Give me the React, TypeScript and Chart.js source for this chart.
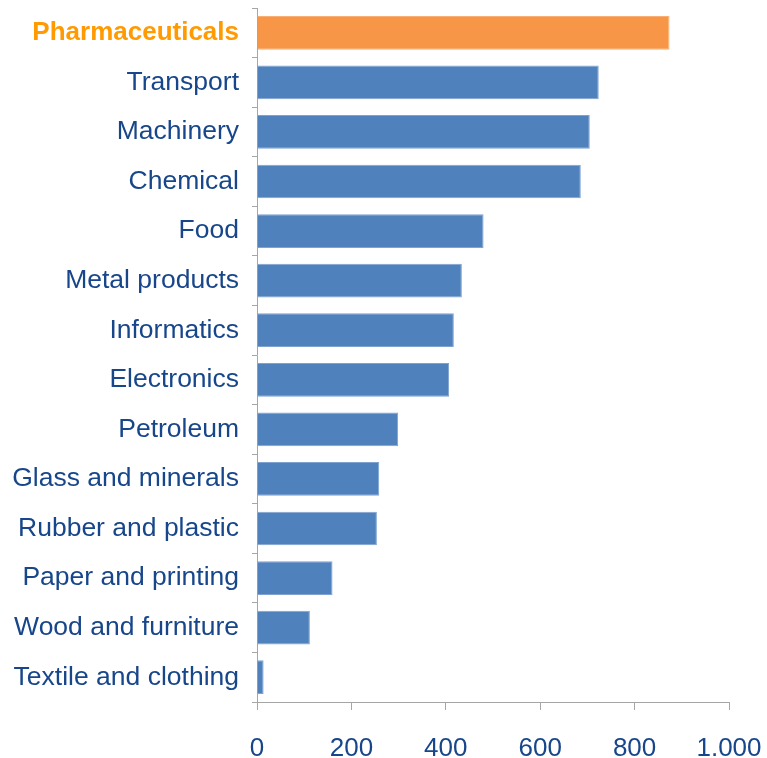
import React, { useEffect, useRef } from "react";
import { Chart, registerables } from "chart.js";

Chart.register(...registerables);

// Sectors, top to bottom
const categories = [
  "Pharmaceuticals",
  "Transport",
  "Machinery",
  "Chemical",
  "Food",
  "Metal products",
  "Informatics",
  "Electronics",
  "Petroleum",
  "Glass and minerals",
  "Rubber and plastic",
  "Paper and printing",
  "Wood and furniture",
  "Textile and clothing",
];

const values = [874, 724, 705, 686, 480, 434, 417, 407, 299, 259, 254, 160, 112, 14];

const xTickValues = [0, 200, 400, 600, 800, 1000];
const xTickLabels = ["0", "200", "400", "600", "800", "1.000"];

const HIGHLIGHT = "#F79646";
const HIGHLIGHT_EDGE = "#F9AE74";
const HIGHLIGHT_TEXT = "#FF9A00";
const BAR = "#4F81BD";
const BAR_EDGE = "#7FA2D0";
const TEXT = "#17468A";
const AXIS = "#A6A6A6";
const FONT = "'Liberation Sans', Arial, sans-serif";

export default function App() {
  const canvasRef = useRef<HTMLCanvasElement | null>(null);

  useEffect(() => {
    const canvas = canvasRef.current;
    if (!canvas) return;
    const chart = new Chart(canvas, {
      type: "bar",
      data: {
        labels: categories,
        datasets: [
          {
            data: values,
            backgroundColor: categories.map((_, i) => (i === 0 ? HIGHLIGHT : BAR)),
            borderColor: categories.map((_, i) => (i === 0 ? HIGHLIGHT_EDGE : BAR_EDGE)),
            borderWidth: 1,
            categoryPercentage: 1,
            barPercentage: 0.68,
          },
        ],
      },
      options: {
        indexAxis: "y",
        animation: false,
        responsive: true,
        maintainAspectRatio: false,
        layout: { padding: { top: 8, right: 38, left: 0, bottom: 0 } },
        plugins: {
          legend: { display: false },
          tooltip: { enabled: false },
        },
        scales: {
          x: {
            type: "linear",
            min: 0,
            max: 1000,
            afterBuildTicks: (scale: any) => {
              scale.ticks = xTickValues.map((v) => ({ value: v }));
            },
            afterFit: (scale: any) => {
              scale.height = 56;
              scale.paddingLeft = 0;
              scale.paddingRight = 0;
            },
            ticks: {
              color: TEXT,
              font: { family: FONT, size: 26 },
              padding: 23,
              maxRotation: 0,
              callback: (value: any) => {
                const idx = xTickValues.indexOf(Number(value));
                return idx >= 0 ? xTickLabels[idx] : "";
              },
            },
            grid: {
              drawOnChartArea: false,
              drawTicks: true,
              tickLength: 8,
              color: AXIS,
              lineWidth: 1,
            },
            border: { display: true, color: AXIS, width: 1 },
          },
          y: {
            type: "category",
            afterFit: (scale: any) => {
              scale.width = 257;
              scale.paddingTop = 0;
              scale.paddingBottom = 0;
            },
            ticks: {
              padding: 13,
              color: (ctx: any) => (ctx.index === 0 ? HIGHLIGHT_TEXT : TEXT),
              font: (ctx: any) => ({
                family: FONT,
                size: ctx.index === 0 ? 26 : 26.5,
                weight: ctx.index === 0 ? "bold" : "normal",
              }),
            },
            grid: {
              offset: true,
              drawOnChartArea: false,
              drawTicks: true,
              tickLength: 5,
              color: AXIS,
              lineWidth: 1,
            },
            border: { display: true, color: AXIS, width: 1 },
          },
        },
      },
    });
    return () => chart.destroy();
  }, []);

  return (
    <div
      style={{
        position: "fixed",
        left: 0,
        top: 0,
        width: 767,
        height: 758,
        background: "#ffffff",
      }}
    >
      <canvas ref={canvasRef} />
    </div>
  );
}
